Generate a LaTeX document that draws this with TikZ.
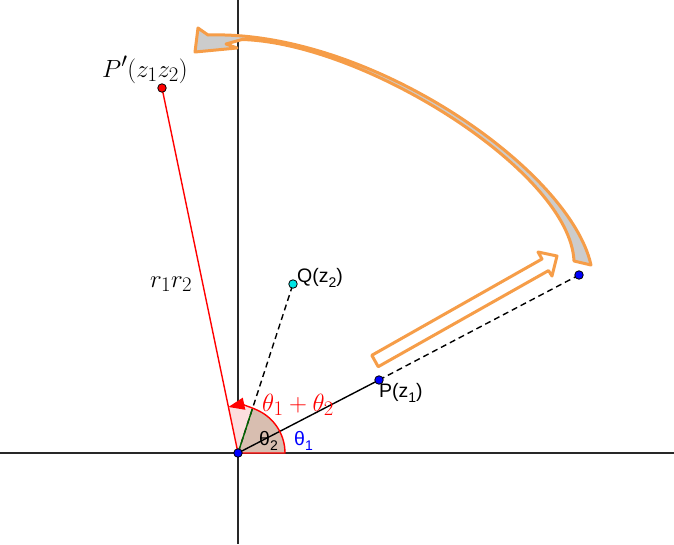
\documentclass[tikz,border=0pt]{standalone}
\usepackage{fontspec}
\newfontfamily\geofont{Liberation Sans}
\usetikzlibrary{arrows.meta,calc}
\definecolor{arroworange}{RGB}{246,157,72}
\definecolor{wedgebrown}{RGB}{216,190,176}
\definecolor{wedgepink}{RGB}{252,222,222}
\definecolor{axisgray}{RGB}{40,40,40}
\definecolor{edgegreen}{RGB}{0,100,0}
\definecolor{qcyan}{RGB}{0,230,230}
\newcommand\geosub[1]{\raisebox{-0.3em}{\fontsize{14}{14}\selectfont #1}}
\tikzset{
  pt/.style={circle, draw=black, line width=0.8pt, inner sep=0pt, minimum size=8.5pt, fill=#1},
  geolbl/.style={anchor=base west, inner sep=0pt, font=\geofont\fontsize{19.5}{22}\selectfont},
  mathlbl/.style={anchor=base west, inner sep=0pt, font=\Huge},
  hollow/.style={draw=arroworange, line width=3pt, line join=round},
  seg/.style={line width=1.4pt},
  dashseg/.style={line width=1.4pt, dash pattern=on 6pt off 4pt},
}

\begin{document}
\begin{tikzpicture}[x=1pt,y=-1pt]
			\useasboundingbox (0,0) rectangle (674,544);
			
			%%%%% points %%%%%
			\coordinate (O) at (238,453);
			\coordinate (P) at (379,380);
			\coordinate (Q) at (293,284);
			\coordinate (Pp) at (162,88);
			\coordinate (Ps) at (579,275);
			
			%%%%% axes %%%%%
			\draw[axisgray, seg] (0,453) -- (674,453);
			\draw[axisgray, seg] (238,0) -- (238,544);
			
			%%%%% angles %%%%%
			\fill[wedgepink] (O) -- ($(O)+(0:47)$) arc (0:-101.8:47) -- cycle;
			\fill[wedgebrown] (O) -- ($(O)+(0:47)$) arc (0:-72:47) -- cycle;
			
			\draw[seg] (O) -- (P);
			\draw[red, seg] (O) -- (Pp);
			\draw[dashseg] (O) -- (Q);
			\draw[dashseg] (P) -- (Ps);
			
			\draw[edgegreen, seg] (O) -- ($(O)+(-72:47)$);
			\draw[red, seg, -{Triangle[length=16pt,width=12pt]}] (O) -- ($(O)+(0:47)$) arc (0:-101.8:47);
			
			%%%%% orange arrows %%%%%
			\draw[hollow, fill=white] (371.8,355.3) -- (542,259) -- (538,252) -- (557,256) -- (552,276) -- (548.5,270.6) -- (378.2,366.7) -- cycle;
			
			\draw[hollow, fill=gray!40] (208,35) .. controls (370,30) and (570,170) .. (591,265)
				-- (574,261) .. controls (570,172) and (365,43) .. (242,39.5)
				-- (226,44) -- (237,48) -- (195,52) -- (198,28) -- cycle;
			
			%%%%% dots %%%%%
			\node[pt=blue] (dotO) at (O) {};
			\node[pt=blue] (dotP) at (P) {};
			\node[pt=qcyan] (dotQ) at (Q) {};
			\node[pt=red] (dotPp) at (Pp) {};
			\node[pt=blue] (dotPs) at (Ps) {};
			
			%%%%% labels %%%%%
			\node[mathlbl] (lblPp) at (102,77) {$P'(z_1z_2)$};
			\node[mathlbl] (lblr) at (150,287) {$r_1r_2$};
			\node[mathlbl, red] (lblsum) at (262,411) {$\theta_1+\theta_2$};
			\node[geolbl] (lblQ) at (297,282) {Q(z\geosub{2})};
			\node[geolbl] (lblP) at (379,397) {P(z\geosub{1})};
			\node[geolbl] (lbltwo) at (259,445) {θ\geosub{2}};
			\node[geolbl, blue] (lblone) at (294,445) {θ\geosub{1}};
			
\end{tikzpicture}
\end{document}
